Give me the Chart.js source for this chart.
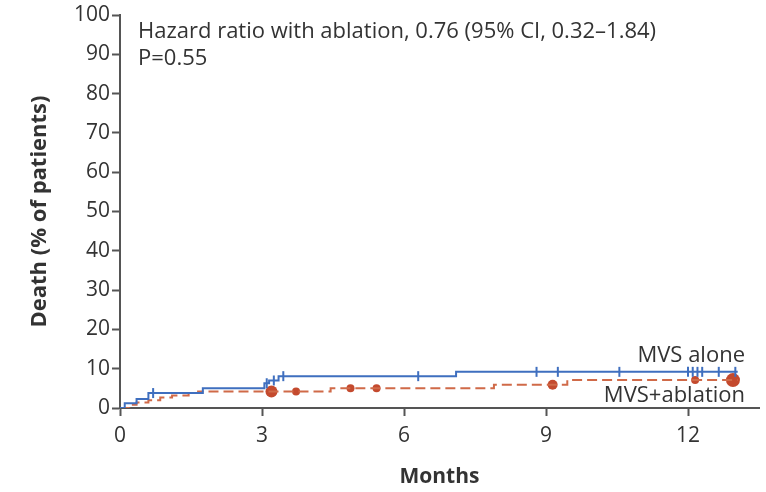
<!DOCTYPE html>
<html>
<head>
<meta charset="utf-8">
<script src="https://cdn.jsdelivr.net/npm/chart.js@4"></script>
<style>
  html, body { margin: 0; padding: 0; background: #fff; }
  #wrap { width: 766px; height: 492px; }
</style>
</head>
<body>
<div id="wrap"><canvas id="km"></canvas></div>
<script>
// Axis ticks
const monthTicks = [0, 3, 6, 9, 12];
const deathTicks = [0, 10, 20, 30, 40, 50, 60, 70, 80, 90, 100];

// Kaplan-Meier steps: month of event, cumulative death (%) from then on
const aloneTimes = [0, 0.1, 0.35, 0.6, 1.75, 3.05, 3.15, 3.35, 7.1, 13.05];
const aloneDeaths = [0, 1.2, 2.3, 3.8, 5.0, 6.3, 7.0, 8.1, 9.2, 9.2];
const ablationTimes = [0, 0.2, 0.35, 0.6, 0.85, 1.1, 1.45, 1.65, 4.45, 7.9, 9.45, 13.05];
const ablationDeaths = [0, 0.8, 1.4, 2.0, 2.7, 3.2, 3.8, 4.2, 5.0, 5.9, 7.1, 7.1];

// Censored patients (months)
const aloneCensored = [0.7, 3.1, 3.25, 3.45, 6.3, 8.8, 9.25, 10.55, 12.0, 12.1, 12.2, 12.3, 12.65, 13.0];
const ablationCensored = [3.2, 3.72, 4.87, 5.42, 9.14, 12.15, 12.95];
const ablationCensorSize = [6, 4, 4, 4, 5, 4, 7];

const hazardText = 'Hazard ratio with ablation, 0.76 (95% CI, 0.32\u20131.84)';
const pText = 'P=0.55';

const blue = '#3f6fbf';
const red = '#d06a48';
const redDot = '#c44a2e';
const ink = '#333333';
const axisColor = '#555555';

// level of a step curve at month t
function stepAt(times, vals, t) {
  let v = vals[0];
  for (let i = 0; i < times.length; i++) if (times[i] <= t) v = vals[i];
  return v;
}

const labelsPlugin = {
  id: 'kmLabels',
  afterDraw(chart) {
    const { ctx, chartArea } = chart;
    ctx.save();
    ctx.fillStyle = ink;
    ctx.font = '22px "Open Sans"';
    ctx.textBaseline = 'middle';
    ctx.textAlign = 'left';
    ctx.fillText(hazardText, chartArea.left + 18, 32);
    ctx.fillText(pText, chartArea.left + 18, 59);
    ctx.textAlign = 'right';
    ctx.fillText('MVS alone', 745, 356);
    ctx.fillText('MVS+ablation', 745, 396);
    ctx.restore();
  }
};

function draw() {
  Chart.defaults.font.family = '"Open Sans"';
  Chart.defaults.color = ink;

  new Chart(document.getElementById('km'), {
    type: 'line',
    data: {
      datasets: [
        {
          label: 'MVS alone',
          data: aloneTimes.map((t, i) => ({ x: t, y: aloneDeaths[i] })),
          borderColor: blue,
          borderWidth: 2,
          stepped: true,
          pointRadius: 0,
          fill: false
        },
        {
          label: 'MVS+ablation',
          data: ablationTimes.map((t, i) => ({ x: t, y: ablationDeaths[i] })),
          borderColor: red,
          borderWidth: 2,
          borderDash: [10, 5],
          stepped: true,
          pointRadius: 0,
          fill: false
        },
        {
          type: 'scatter',
          label: 'MVS alone censored',
          data: aloneCensored.map(t => ({ x: t, y: stepAt(aloneTimes, aloneDeaths, t) })),
          pointStyle: 'line',
          rotation: 90,
          pointRadius: 5,
          borderWidth: 2,
          borderColor: blue,
          backgroundColor: blue
        },
        {
          type: 'scatter',
          label: 'MVS+ablation censored',
          data: ablationCensored.map(t => ({ x: t, y: stepAt(ablationTimes, ablationDeaths, t) })),
          pointStyle: 'circle',
          pointRadius: ablationCensorSize,
          borderWidth: 0,
          borderColor: redDot,
          backgroundColor: redDot
        }
      ]
    },
    options: {
      responsive: true,
      maintainAspectRatio: false,
      animation: false,
      layout: { padding: { top: 15, right: 6, bottom: 2, left: 0 } },
      plugins: { legend: { display: false }, tooltip: { enabled: false } },
      scales: {
        x: {
          type: 'linear',
          min: 0,
          max: 13.5,
          afterBuildTicks: s => { s.ticks = monthTicks.map(v => ({ value: v })); },
          afterFit: s => { s.height = 82; },
          grid: { drawOnChartArea: false, drawTicks: true, tickLength: 8, tickWidth: 2, color: axisColor },
          border: { display: true, color: axisColor, width: 2 },
          ticks: { font: { size: 21 }, color: ink, padding: 7, maxRotation: 0 },
          title: { display: true, text: 'Months', font: { size: 21, weight: 'bold' }, color: ink, padding: { bottom: 0 } }
        },
        y: {
          type: 'linear',
          min: 0,
          max: 100,
          afterBuildTicks: s => { s.ticks = deathTicks.map(v => ({ value: v })); },
          afterFit: s => { s.width = 120; },
          grid: { drawOnChartArea: false, drawTicks: true, tickLength: 8, tickWidth: 2, color: axisColor },
          border: { display: true, color: axisColor, width: 2 },
          ticks: { font: { size: 21 }, color: ink, padding: 2 },
          title: { display: true, text: 'Death (% of patients)', font: { size: 22, weight: 'bold' }, color: ink, padding: { top: 27 } }
        }
      }
    },
    plugins: [labelsPlugin]
  });
}

if (document.fonts && document.fonts.load) {
  Promise.all([
    document.fonts.load('22px "Open Sans"'),
    document.fonts.load('bold 22px "Open Sans"')
  ]).then(draw, draw);
} else {
  draw();
}
</script>
</body>
</html>
